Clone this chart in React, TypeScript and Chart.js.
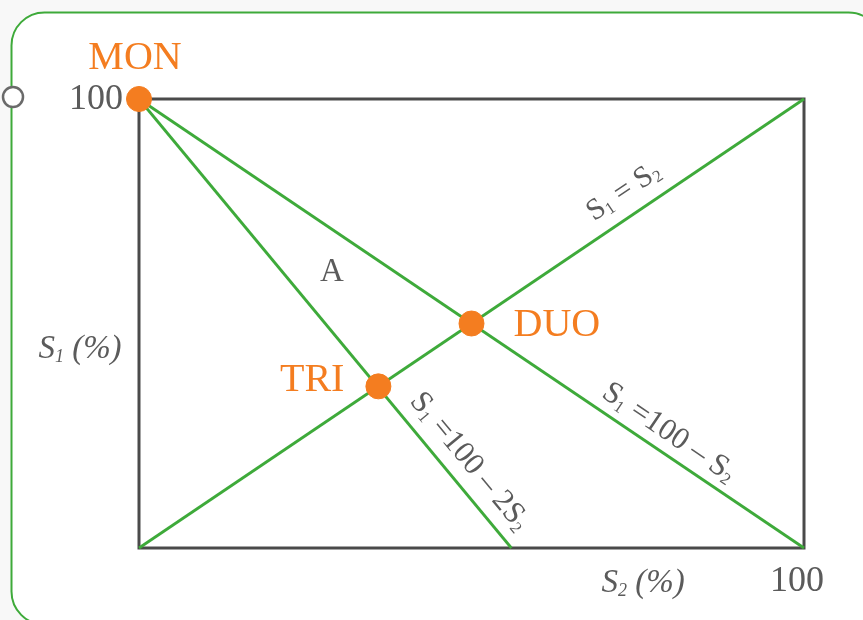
import React, { useEffect, useRef } from "react";
import { Chart, registerables } from "chart.js";

Chart.register(...registerables);

// Lines (x = S2 %, y = S1 %)
const lineEqualS2 = [0, 100];
const lineEqualS1 = [0, 100];
const lineDuoS2 = [0, 100];
const lineDuoS1 = [100, 0];
const lineTriS2 = [0, 56];
const lineTriS1 = [100, 0];

// Marked points
const pointNames = ["MON", "DUO", "TRI"];
const pointS2 = [0, 50, 36];
const pointS1 = [100, 50, 36];

// Axis labels
const xTickLabel = "100";
const yTickLabel = "100";
const regionLabel = "A";
const regionS2 = 29;
const regionS1 = 61.5;

const GREEN = "#3eaa3a";
const ORANGE = "#f47d20";
const GRAY = "#5b5b5b";
const BORDER = "#4a4a4a";
const FONT = "'Liberation Serif', 'DejaVu Serif', serif";

type Part = { t: string; sub?: boolean };

function richWidth(ctx: CanvasRenderingContext2D, parts: Part[], size: number, italic: boolean) {
  let w = 0;
  for (const p of parts) {
    ctx.font = `${italic ? "italic " : ""}${p.sub ? Math.round(size * 0.55) : size}px ${FONT}`;
    w += ctx.measureText(p.t).width;
  }
  return w;
}

function drawRich(
  ctx: CanvasRenderingContext2D,
  x: number,
  y: number,
  angle: number,
  parts: Part[],
  size: number,
  italic: boolean,
  color: string
) {
  ctx.save();
  ctx.translate(x, y);
  ctx.rotate(angle);
  ctx.fillStyle = color;
  ctx.textBaseline = "alphabetic";
  ctx.textAlign = "left";
  const w = richWidth(ctx, parts, size, italic);
  let cx = -w / 2;
  const base = size * 0.33;
  for (const p of parts) {
    ctx.font = `${italic ? "italic " : ""}${p.sub ? Math.round(size * 0.55) : size}px ${FONT}`;
    ctx.fillText(p.t, cx, p.sub ? base + size * 0.12 : base);
    cx += ctx.measureText(p.t).width;
  }
  ctx.restore();
}

const decorPlugin = {
  id: "decor",
  beforeDraw(chart: any) {
    const ctx: CanvasRenderingContext2D = chart.ctx;
    ctx.save();
    ctx.fillStyle = "#f8f8f8";
    ctx.fillRect(0, 0, chart.width, chart.height);
    const x = 11.5, y = 12.5, w = 870, h = 612, r = 33;
    ctx.beginPath();
    ctx.moveTo(x + r, y);
    ctx.lineTo(x + w - r, y);
    ctx.arcTo(x + w, y, x + w, y + r, r);
    ctx.lineTo(x + w, y + h - r);
    ctx.arcTo(x + w, y + h, x + w - r, y + h, r);
    ctx.lineTo(x + r, y + h);
    ctx.arcTo(x, y + h, x, y + h - r, r);
    ctx.lineTo(x, y + r);
    ctx.arcTo(x, y, x + r, y, r);
    ctx.closePath();
    ctx.fillStyle = "#ffffff";
    ctx.fill();
    ctx.strokeStyle = GREEN;
    ctx.lineWidth = 2;
    ctx.stroke();
    // small handle circle on the left edge
    ctx.beginPath();
    ctx.arc(13, 97, 10, 0, Math.PI * 2);
    ctx.fillStyle = "#ffffff";
    ctx.fill();
    ctx.strokeStyle = "#6a6a6a";
    ctx.lineWidth = 2.5;
    ctx.stroke();
    ctx.restore();
  },
  beforeDatasetsDraw(chart: any) {
    const ctx: CanvasRenderingContext2D = chart.ctx;
    const a = chart.chartArea;
    ctx.save();
    ctx.strokeStyle = BORDER;
    ctx.lineWidth = 3;
    ctx.strokeRect(a.left, a.top, a.right - a.left, a.bottom - a.top);
    ctx.restore();
  },
  afterDatasetsDraw(chart: any) {
    const ctx: CanvasRenderingContext2D = chart.ctx;
    const xs = chart.scales.x;
    const ys = chart.scales.y;
    const px = (v: number) => xs.getPixelForValue(v);
    const py = (v: number) => ys.getPixelForValue(v);
    const a = chart.chartArea;

    ctx.save();
    // tick labels
    ctx.fillStyle = GRAY;
    ctx.font = `36px ${FONT}`;
    ctx.textBaseline = "middle";
    ctx.textAlign = "right";
    ctx.fillText(yTickLabel, px(0) - 16, py(100) + 1);
    ctx.textAlign = "center";
    ctx.fillText(xTickLabel, px(100) - 7, a.bottom + 34);

    // region label
    ctx.font = `33px ${FONT}`;
    ctx.fillText(regionLabel, px(regionS2), py(regionS1));

    // point labels
    ctx.fillStyle = ORANGE;
    ctx.font = `40px ${FONT}`;
    ctx.textAlign = "center";
    ctx.fillText(pointNames[0], px(pointS2[0]) - 4, py(pointS1[0]) - 41);
    ctx.textAlign = "left";
    ctx.fillText(pointNames[1], px(pointS2[1]) + 42, py(pointS1[1]) + 2);
    ctx.textAlign = "right";
    ctx.fillText(pointNames[2], px(pointS2[2]) - 34, py(pointS1[2]) - 6);
    ctx.restore();

    // axis titles
    drawRich(ctx, a.left - 59, py(44.8), 0, [{ t: "S" }, { t: "1", sub: true }, { t: " (%)" }], 33, true, GRAY);
    drawRich(ctx, px(75.8), a.bottom + 33, 0, [{ t: "S" }, { t: "2", sub: true }, { t: " (%)" }], 33, true, GRAY);

    // line labels
    const lineLabel = (
      x0: number, y0: number, x1: number, y1: number,
      frac: number, off: number, parts: Part[], size: number
    ) => {
      const X0 = px(x0), Y0 = py(y0), X1 = px(x1), Y1 = py(y1);
      const dx = X1 - X0, dy = Y1 - Y0;
      const len = Math.hypot(dx, dy);
      const ux = dx / len, uy = dy / len;
      const nx = uy, ny = -ux;
      const cx = X0 + dx * frac + nx * off;
      const cy = Y0 + dy * frac + ny * off;
      drawRich(ctx, cx, cy, Math.atan2(dy, dx), parts, size, false, GRAY);
    };
    lineLabel(lineEqualS2[0], lineEqualS1[0], lineEqualS2[1], lineEqualS1[1], 0.749, 26,
      [{ t: "S" }, { t: "1", sub: true }, { t: " = S" }, { t: "2", sub: true }], 30);
    lineLabel(lineDuoS2[0], lineDuoS1[0], lineDuoS2[1], lineDuoS1[1], 0.78, 22,
      [{ t: "S" }, { t: "1", sub: true }, { t: " =100 – S" }, { t: "2", sub: true }], 31);
    lineLabel(lineTriS2[0], lineTriS1[0], lineTriS2[1], lineTriS1[1], 0.84, 25,
      [{ t: "S" }, { t: "1", sub: true }, { t: " =100 – 2S" }, { t: "2", sub: true }], 31);
  },
};

const toXY = (xs: number[], ys: number[]) => xs.map((x, i) => ({ x, y: ys[i] }));

export default function App() {
  const ref = useRef<HTMLCanvasElement>(null);
  useEffect(() => {
    if (!ref.current) return;
    const lineDs = (data: { x: number; y: number }[]) => ({
      type: "line" as const,
      data,
      borderColor: GREEN,
      borderWidth: 2.8,
      pointRadius: 0,
      showLine: true,
      fill: false,
      order: 2,
      clip: false as any,
    });
    const chart = new Chart(ref.current, {
      type: "scatter",
      data: {
        datasets: [
          lineDs(toXY(lineEqualS2, lineEqualS1)),
          lineDs(toXY(lineDuoS2, lineDuoS1)),
          lineDs(toXY(lineTriS2, lineTriS1)),
          {
            type: "scatter",
            data: toXY(pointS2, pointS1),
            backgroundColor: ORANGE,
            borderColor: ORANGE,
            pointRadius: 12.5,
            pointHoverRadius: 12.5,
            order: 1,
            clip: false as any,
          } as any,
        ],
      },
      options: {
        animation: false,
        responsive: false,
        devicePixelRatio: 1,
        layout: { padding: { left: 139, top: 99, right: 59, bottom: 72 } },
        plugins: { legend: { display: false }, tooltip: { enabled: false } },
        scales: {
          x: { type: "linear", min: 0, max: 100, display: false },
          y: { type: "linear", min: 0, max: 100, display: false },
        },
        events: [],
      },
      plugins: [decorPlugin],
    });
    return () => chart.destroy();
  }, []);
  return (
    <div style={{ position: "fixed", left: 0, top: 0, width: 863, height: 620 }}>
      <canvas ref={ref} width={863} height={620} style={{ width: 863, height: 620, display: "block" }} />
    </div>
  );
}
